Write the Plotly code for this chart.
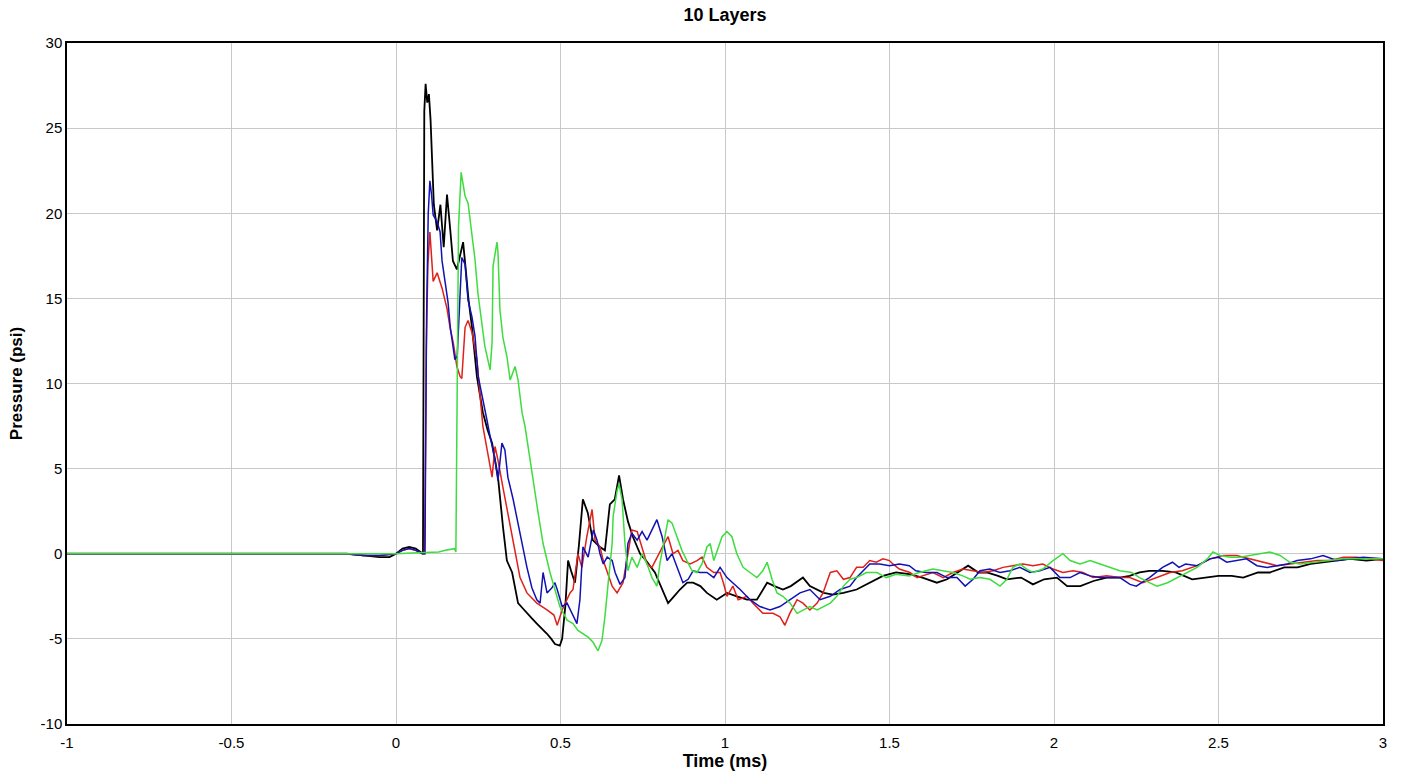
import plotly.graph_objects as go

# ---- data (time in ms, pressure in psi) ----
black_t = [-1.0, -0.5, -0.15, -0.1, -0.05, -0.02, 0.0, 0.02, 0.04, 0.06, 0.075, 0.082, 0.086, 0.09, 0.095, 0.1, 0.105,
           0.109, 0.115, 0.125, 0.135, 0.145, 0.155, 0.165, 0.173, 0.185, 0.195, 0.204, 0.212, 0.22, 0.231, 0.246,
           0.264, 0.278, 0.292, 0.31, 0.325, 0.337, 0.353, 0.371, 0.385, 0.398, 0.413, 0.428, 0.444, 0.459, 0.472,
           0.483, 0.498, 0.505, 0.515, 0.523, 0.532, 0.544, 0.556, 0.568, 0.583, 0.598, 0.62, 0.635, 0.65, 0.665,
           0.678, 0.69, 0.705, 0.72, 0.742, 0.76, 0.787, 0.81, 0.827, 0.845, 0.863, 0.885, 0.903, 0.925, 0.945,
           0.975, 1.006, 1.036, 1.067, 1.097, 1.128, 1.15, 1.176, 1.2, 1.237, 1.258, 1.28, 1.3, 1.328, 1.36, 1.4,
           1.44, 1.48, 1.52, 1.56, 1.6, 1.644, 1.675, 1.705, 1.739, 1.77, 1.796, 1.83, 1.857, 1.9, 1.936, 1.97,
           2.009, 2.04, 2.08, 2.12, 2.16, 2.2, 2.23, 2.26, 2.29, 2.33, 2.37, 2.42, 2.46, 2.5, 2.54, 2.575, 2.62,
           2.656, 2.7, 2.74, 2.78, 2.82, 2.86, 2.9, 2.95, 3.0]
black_p = [0.0, 0.0, 0.0, -0.1, -0.2, -0.2, 0.0, 0.3, 0.4, 0.3, 0.1, 0.0, 26.0, 27.6, 26.5, 27.0, 25.5,
           23.0, 20.5, 19.0, 20.5, 18.0, 21.1, 19.0, 17.2, 16.7, 17.5, 18.3, 16.7, 15.0, 13.3, 10.4,
           8.3, 7.3, 6.5, 4.5, 1.6, -0.4, -1.1, -2.9, -3.2, -3.5, -3.8, -4.1, -4.4, -4.7, -5.0,
           -5.3, -5.4, -5.0, -3.0, -0.4, -1.0, -1.7, 0.5, 3.2, 2.4, 0.8, 0.4, 0.2, 2.9, 3.2,
           4.6, 3.2, 1.9, 1.0, 0.0, -0.4, -1.1, -2.1, -2.9, -2.5, -2.1, -1.7, -1.7, -1.9, -2.3,
           -2.7, -2.3, -2.5, -2.7, -2.7, -1.7, -1.9, -2.1, -1.9, -1.4, -1.9, -2.1, -2.3, -2.4, -2.3, -2.1,
           -1.7, -1.3, -1.1, -1.2, -1.4, -1.7, -1.5, -1.1, -0.7, -1.1, -1.1, -1.3, -1.5, -1.4, -1.8, -1.5,
           -1.4, -1.9, -1.9, -1.6, -1.4, -1.4, -1.3, -1.1, -1.0, -1.0, -1.1, -1.5, -1.4, -1.3, -1.3, -1.4, -1.1,
           -1.1, -0.8, -0.8, -0.6, -0.5, -0.4, -0.3, -0.4, -0.3]

red_t = [-1.0, -0.5, -0.15, -0.1, -0.05, 0.0, 0.02, 0.04, 0.06, 0.08, 0.087, 0.092, 0.097, 0.103, 0.108, 0.113,
         0.125, 0.14, 0.155, 0.165, 0.174, 0.185, 0.195, 0.2, 0.21, 0.219, 0.231, 0.246, 0.255, 0.264, 0.279,
         0.292, 0.301, 0.31, 0.325, 0.34, 0.356, 0.377, 0.398, 0.428, 0.459, 0.48, 0.49, 0.505, 0.529, 0.538,
         0.553, 0.565, 0.58, 0.59, 0.596, 0.605, 0.62, 0.63, 0.642, 0.657, 0.672, 0.69, 0.705, 0.717, 0.733,
         0.748, 0.763, 0.778, 0.793, 0.81, 0.827, 0.842, 0.857, 0.872, 0.894, 0.915, 0.93, 0.945, 0.966, 0.985,
         0.995, 1.006, 1.024, 1.04, 1.067, 1.085, 1.115, 1.146, 1.167, 1.182, 1.197, 1.219, 1.237, 1.258, 1.28,
         1.298, 1.32, 1.34, 1.36, 1.38, 1.4, 1.42, 1.44, 1.46, 1.48, 1.5, 1.51, 1.53, 1.562, 1.584, 1.6, 1.632,
         1.663, 1.693, 1.723, 1.754, 1.784, 1.815, 1.845, 1.875, 1.906, 1.936, 1.966, 1.997, 2.027, 2.058, 2.088,
         2.119, 2.16, 2.2, 2.23, 2.27, 2.31, 2.353, 2.39, 2.435, 2.475, 2.514, 2.555, 2.596, 2.637, 2.678, 2.717,
         2.757, 2.8, 2.839, 2.88, 2.92, 2.96, 3.0]
red_p = [0.0, 0.0, 0.0, -0.1, -0.1, 0.0, 0.2, 0.3, 0.2, 0.0, 0.0, 12.0, 17.0, 18.9, 17.5, 16.0,
         16.5, 15.6, 14.4, 13.2, 12.4, 11.0, 10.4, 10.3, 13.3, 13.7, 13.0, 11.4, 9.4, 7.5, 5.9,
         4.5, 6.3, 5.5, 3.9, 2.4, 0.6, -1.4, -2.3, -2.9, -3.3, -3.6, -4.2, -3.3, -2.3, -2.1,
         0.0, -0.8, 1.0, 2.0, 2.6, 0.8, 0.4, -0.4, -1.1, -1.9, -2.3, -1.7, 0.0, 1.4, 1.3,
         0.4, -0.6, -0.8, -0.2, 0.4, 1.0, 0.0, 0.2, -0.4, -0.6, -0.4, -0.2, -0.8, -1.1, -1.1,
         -1.7, -2.5, -1.9, -2.7, -2.5, -2.9, -3.5, -3.5, -3.7, -4.2, -3.5, -2.7, -2.9, -3.3, -2.9,
         -2.3, -1.1, -1.0, -1.5, -1.4, -0.8, -0.8, -0.4, -0.5, -0.3, -0.4, -0.6, -0.9, -1.1, -1.4, -1.3, -1.1,
         -1.4, -1.1, -0.9, -1.0, -1.1, -1.0, -0.8, -0.7, -0.6, -0.7, -0.6, -0.9, -1.1, -1.0, -1.1,
         -1.4, -1.3, -1.4, -1.4, -1.7, -1.4, -1.1, -1.0, -0.7, -0.3, -0.1, -0.1, -0.3, -0.5, -0.7, -0.6,
         -0.5, -0.4, -0.4, -0.2, -0.2, -0.3, -0.4]

blue_t = [-1.0, -0.5, -0.15, -0.1, -0.05, 0.0, 0.02, 0.04, 0.06, 0.08, 0.088, 0.093, 0.098, 0.103, 0.108, 0.113,
          0.125, 0.134, 0.14, 0.149, 0.158, 0.165, 0.174, 0.179, 0.186, 0.195, 0.2, 0.21, 0.219, 0.231, 0.24,
          0.25, 0.261, 0.276, 0.286, 0.301, 0.31, 0.322, 0.331, 0.34, 0.356, 0.368, 0.383, 0.398, 0.413, 0.428,
          0.438, 0.447, 0.459, 0.474, 0.483, 0.49, 0.505, 0.52, 0.535, 0.55, 0.559, 0.568, 0.584, 0.6, 0.611,
          0.62, 0.63, 0.642, 0.657, 0.666, 0.681, 0.696, 0.705, 0.717, 0.733, 0.748, 0.763, 0.778, 0.793, 0.809,
          0.824, 0.839, 0.854, 0.872, 0.888, 0.903, 0.924, 0.945, 0.966, 0.985, 1.006, 1.024, 1.046, 1.076, 1.106,
          1.137, 1.167, 1.198, 1.228, 1.258, 1.289, 1.32, 1.35, 1.38, 1.4, 1.42, 1.44, 1.47, 1.5, 1.53, 1.56,
          1.58, 1.61, 1.644, 1.675, 1.705, 1.73, 1.754, 1.775, 1.805, 1.836, 1.866, 1.896, 1.927, 1.957, 1.988,
          2.018, 2.049, 2.079, 2.11, 2.14, 2.17, 2.2, 2.231, 2.25, 2.29, 2.33, 2.36, 2.38, 2.4, 2.435, 2.474,
          2.5, 2.525, 2.555, 2.585, 2.617, 2.648, 2.678, 2.709, 2.739, 2.78, 2.818, 2.86, 2.9, 2.94, 3.0]
blue_p = [0.0, 0.0, 0.0, -0.1, -0.1, 0.0, 0.2, 0.3, 0.2, 0.0, 0.0, 14.0, 20.0, 21.9, 21.1, 19.9,
          19.5, 18.9, 17.2, 16.0, 14.8, 13.3, 12.1, 11.4, 11.6, 15.3, 17.4, 17.0, 14.9, 13.9, 12.8,
          10.4, 9.4, 7.9, 6.9, 5.5, 4.3, 6.5, 6.1, 4.5, 3.2, 2.0, 0.6, -0.8, -2.0, -2.7,
          -2.9, -1.1, -2.3, -2.0, -1.7, -2.1, -3.1, -2.9, -3.5, -4.1, -2.7, 0.4, -0.2, 1.4, 0.8,
          0.0, -0.6, -0.2, -0.4, -1.1, -1.8, -1.4, 0.6, 1.2, 0.8, 1.3, 0.8, 1.4, 2.0, 1.0,
          -0.4, 0.0, -0.8, -1.7, -1.5, -1.0, -1.1, -1.1, -1.4, -0.8, -1.4, -1.7, -2.1, -2.7, -3.1,
          -3.3, -3.1, -2.7, -2.3, -2.1, -2.7, -2.5, -2.1, -1.9, -1.4, -1.0, -0.6, -0.6, -0.7, -0.6, -0.7,
          -1.0, -1.1, -1.1, -1.4, -1.4, -1.9, -1.5, -1.0, -0.9, -1.1, -1.0, -0.8, -1.1, -1.0, -0.8,
          -1.4, -1.4, -1.1, -1.3, -1.4, -1.4, -1.4, -1.8, -1.9, -1.4, -0.8, -0.5, -0.8, -0.6, -0.7, -0.3,
          -0.2, -0.5, -0.4, -0.3, -0.7, -0.8, -0.7, -0.6, -0.4, -0.3, -0.1, -0.4, -0.3, -0.2, -0.3]

green_t = [-1.0, -0.5, -0.1, 0.0, 0.05, 0.1, 0.13, 0.15, 0.17, 0.178, 0.182, 0.185, 0.19, 0.198, 0.205, 0.21,
           0.219, 0.231, 0.24, 0.249, 0.261, 0.27, 0.286, 0.292, 0.295, 0.307, 0.31, 0.316, 0.325, 0.337, 0.347,
           0.362, 0.371, 0.383, 0.392, 0.401, 0.416, 0.432, 0.447, 0.468, 0.483, 0.498, 0.52, 0.538, 0.553, 0.568,
           0.584, 0.599, 0.614, 0.626, 0.635, 0.644, 0.657, 0.66, 0.672, 0.678, 0.687, 0.696, 0.705, 0.717, 0.733,
           0.748, 0.763, 0.778, 0.793, 0.802, 0.818, 0.827, 0.839, 0.854, 0.869, 0.884, 0.9, 0.915, 0.93, 0.945,
           0.955, 0.966, 0.98, 0.991, 1.006, 1.021, 1.036, 1.055, 1.076, 1.097, 1.115, 1.128, 1.143, 1.158, 1.176,
           1.198, 1.219, 1.237, 1.258, 1.28, 1.298, 1.32, 1.34, 1.36, 1.38, 1.4, 1.43, 1.462, 1.49, 1.52, 1.56,
           1.59, 1.632, 1.663, 1.693, 1.723, 1.745, 1.775, 1.805, 1.836, 1.857, 1.875, 1.896, 1.917, 1.936, 1.966,
           1.997, 2.027, 2.049, 2.079, 2.11, 2.14, 2.17, 2.2, 2.236, 2.26, 2.29, 2.313, 2.345, 2.375, 2.405, 2.435,
           2.466, 2.483, 2.505, 2.535, 2.565, 2.596, 2.626, 2.656, 2.687, 2.717, 2.748, 2.787, 2.839, 2.878, 2.94, 3.0]
green_p = [0.0, 0.0, 0.0, 0.0, 0.05, 0.1, 0.1, 0.2, 0.3, 0.3, 0.1, 9.4, 19.2, 22.4, 21.5, 21.0,
           20.6, 18.8, 17.3, 15.3, 13.7, 12.2, 10.8, 12.4, 16.9, 18.3, 17.7, 14.3, 12.7, 11.6, 10.2,
           11.0, 10.2, 8.3, 7.5, 6.3, 4.3, 2.4, 0.6, -1.1, -2.1, -3.1, -3.9, -4.1, -4.5, -4.7,
           -4.9, -5.2, -5.7, -5.1, -3.7, -1.9, 0.6, 2.2, 3.7, 4.1, 3.2, 0.6, -1.0, -0.2, -0.8,
           0.0, -0.6, -1.4, -1.9, -0.6, 1.2, 2.0, 1.8, 1.0, 0.2, -0.4, -1.0, -1.1, -0.6, 0.4,
           0.6, -0.4, 0.4, 1.0, 1.3, 1.0, 0.0, -0.8, -1.1, -1.4, -1.0, -0.5, -1.5, -2.3, -2.5,
           -2.9, -3.5, -3.3, -3.1, -3.3, -3.1, -2.9, -2.5, -1.9, -1.5, -1.4, -1.1, -1.1, -1.4, -1.2, -1.3,
           -1.1, -0.9, -1.0, -1.1, -1.3, -1.5, -1.4, -1.5, -1.9, -1.5, -0.8, -0.6, -0.9, -1.1, -0.9,
           -0.4, 0.0, -0.4, -0.6, -0.4, -0.6, -0.8, -1.0, -1.1, -1.4, -1.7, -1.9, -1.7, -1.4, -1.1, -0.8,
           -0.3, 0.1, -0.1, -0.2, -0.2, -0.1, 0.0, 0.1, -0.1, -0.5, -0.6, -0.5, -0.4, -0.3, -0.3, -0.3]

x_ticks = [-1, -0.5, 0, 0.5, 1, 1.5, 2, 2.5, 3]
y_ticks = [-10, -5, 0, 5, 10, 15, 20, 25, 30]

FONT = "Liberation Sans, Arial, sans-serif"

fig = go.Figure()
series = [
    ("black", black_t, black_p, "#000000", 1.8),
    ("red", red_t, red_p, "#e0201a", 1.5),
    ("blue", blue_t, blue_p, "#1212b4", 1.5),
    ("green", green_t, green_p, "#3edc3e", 1.5),
]
for name, t, p, col, w in series:
    fig.add_trace(go.Scatter(x=t, y=p, mode="lines", name=name,
                             line=dict(color=col, width=w), showlegend=False))

axis_common = dict(showgrid=True, gridcolor="#c8c8c8", gridwidth=1, zeroline=False,
                   showline=True, linecolor="#000000", linewidth=1.5, mirror=True,
                   ticks="", tickfont=dict(family=FONT, size=15, color="#000000"))

fig.update_layout(
    width=1402, height=783,
    margin=dict(l=67, r=19, t=43, b=59),
    paper_bgcolor="white", plot_bgcolor="white",
    title=dict(text="<b>10 Layers</b>", x=0.5, xref="paper", y=1 - 15 / 783, yref="container",
               yanchor="middle", font=dict(family=FONT, size=18, color="#000000")),
    xaxis=dict(range=[-1, 3], tickvals=x_ticks, ticktext=[f"{v:g}" for v in x_ticks],
               ticklabelstandoff=4,
               title=dict(text="<b>Time (ms)</b>", standoff=2,
                          font=dict(family=FONT, size=18, color="#000000")),
               automargin=False, **axis_common),
    yaxis=dict(range=[-10, 30], tickvals=y_ticks, ticktext=[f"{v:g}" for v in y_ticks],
               title=dict(text="<b>Pressure (psi)</b>", standoff=14,
                          font=dict(family=FONT, size=17, color="#000000")),
               automargin=False, **axis_common),
)

fig.write_html("out.html")
